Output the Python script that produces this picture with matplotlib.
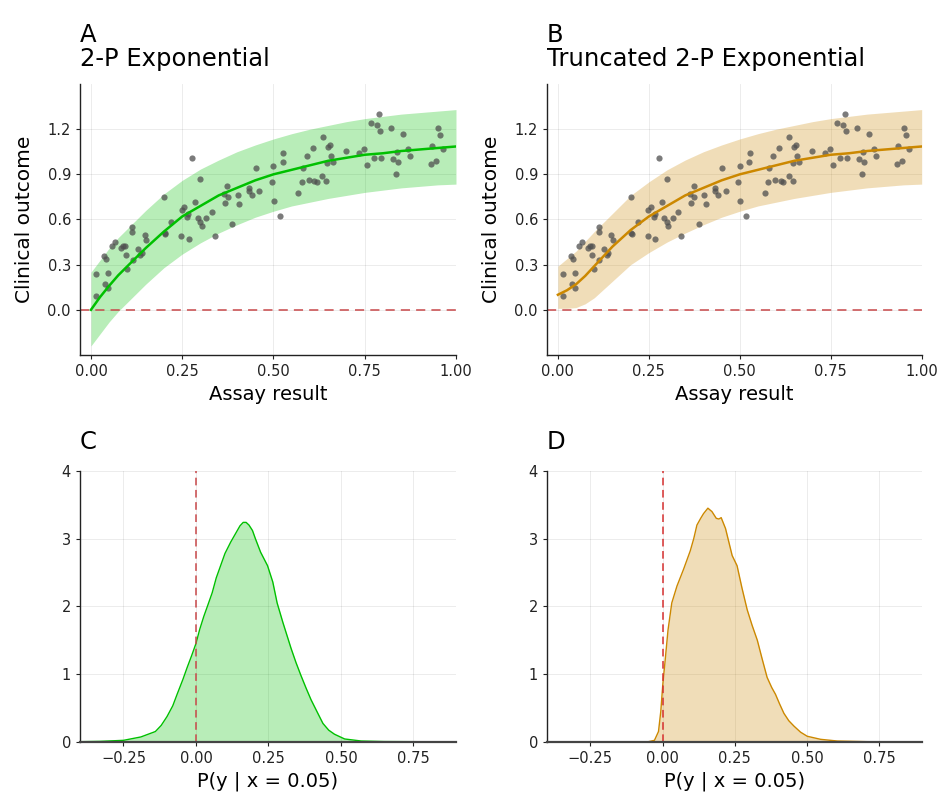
import numpy as np
import matplotlib.pyplot as plt

# observed data (same points shown in A and B)
assay = [0.013, 0.014, 0.035, 0.041, 0.038, 0.048, 0.046, 0.059, 0.067, 0.083,
         0.088, 0.094, 0.095, 0.100, 0.112, 0.113, 0.114, 0.128, 0.135, 0.139,
         0.147, 0.151, 0.200, 0.202, 0.204, 0.220, 0.249, 0.256, 0.248, 0.268,
         0.263, 0.266, 0.277, 0.286, 0.292, 0.299, 0.304, 0.299, 0.316, 0.331,
         0.339, 0.366, 0.364, 0.373, 0.375, 0.387, 0.403, 0.406, 0.432, 0.432,
         0.440, 0.451, 0.461, 0.496, 0.500, 0.501, 0.517, 0.526, 0.527, 0.568,
         0.577, 0.581, 0.592, 0.596, 0.609, 0.612, 0.618, 0.634, 0.635, 0.645,
         0.647, 0.650, 0.654, 0.658, 0.664, 0.699, 0.733, 0.748, 0.755, 0.767,
         0.776, 0.783, 0.790, 0.791, 0.795, 0.821, 0.828, 0.835, 0.839, 0.842,
         0.854, 0.869, 0.875, 0.932, 0.934, 0.946, 0.951, 0.957, 0.964]
outcome = [0.237, 0.091, 0.359, 0.337, 0.171, 0.244, 0.146, 0.424, 0.453, 0.408,
           0.421, 0.426, 0.362, 0.273, 0.548, 0.519, 0.331, 0.404, 0.364, 0.375,
           0.495, 0.464, 0.752, 0.510, 0.506, 0.583, 0.663, 0.681, 0.488, 0.472,
           0.619, 0.634, 1.007, 0.714, 0.612, 0.581, 0.559, 0.867, 0.610, 0.648,
           0.490, 0.708, 0.772, 0.821, 0.752, 0.570, 0.765, 0.703, 0.812, 0.790,
           0.765, 0.945, 0.788, 0.852, 0.956, 0.721, 0.626, 0.985, 1.043, 0.779,
           0.852, 0.941, 1.023, 0.861, 1.078, 0.856, 0.847, 0.892, 1.149, 0.856,
           0.978, 1.080, 1.098, 1.020, 0.985, 1.058, 1.045, 1.071, 0.961, 1.238,
           1.009, 1.227, 1.298, 1.189, 1.007, 1.205, 1.000, 0.903, 1.047, 0.985,
           1.167, 1.071, 1.025, 0.969, 1.089, 0.989, 1.211, 1.158, 1.067]

# fitted curves and predictive bands
x_fit = [0.00, 0.025, 0.05, 0.075, 0.10, 0.125, 0.15, 0.175, 0.20, 0.25, 0.30,
         0.35, 0.40, 0.45, 0.50, 0.55, 0.60, 0.65, 0.70, 0.75, 0.80, 0.85,
         0.90, 0.95, 1.00]
fit_a = [0.00, 0.085, 0.16, 0.23, 0.29, 0.35, 0.41, 0.465, 0.52, 0.62, 0.69,
         0.76, 0.81, 0.86, 0.90, 0.93, 0.96, 0.99, 1.01, 1.03, 1.04, 1.055,
         1.065, 1.075, 1.085]
upper_a = [0.25, 0.33, 0.41, 0.48, 0.54, 0.60, 0.66, 0.715, 0.77, 0.86, 0.935,
           0.995, 1.05, 1.095, 1.135, 1.17, 1.20, 1.225, 1.25, 1.27, 1.285, 1.30,
           1.31, 1.32, 1.33]
lower_a = [-0.24, -0.16, -0.08, -0.01, 0.05, 0.11, 0.17, 0.225, 0.28, 0.37, 0.445,
           0.51, 0.565, 0.615, 0.655, 0.69, 0.715, 0.74, 0.76, 0.78, 0.795, 0.81,
           0.82, 0.83, 0.835]
fit_b = [0.10, 0.13, 0.17, 0.225, 0.29, 0.355, 0.42, 0.475, 0.53, 0.62, 0.69,
         0.76, 0.81, 0.86, 0.90, 0.93, 0.96, 0.99, 1.01, 1.03, 1.04, 1.055,
         1.065, 1.075, 1.085]
upper_b = [0.29, 0.34, 0.39, 0.455, 0.52, 0.58, 0.64, 0.70, 0.76, 0.85, 0.93,
           0.995, 1.05, 1.095, 1.135, 1.17, 1.20, 1.225, 1.25, 1.27, 1.285, 1.30,
           1.31, 1.32, 1.33]
lower_b = [0.01, 0.01, 0.015, 0.04, 0.08, 0.135, 0.19, 0.245, 0.30, 0.38, 0.45,
           0.51, 0.565, 0.615, 0.655, 0.69, 0.715, 0.74, 0.76, 0.78, 0.795, 0.81,
           0.82, 0.83, 0.835]

# posterior predictive densities at x = 0.05
dens_x_c = [-0.40, -0.33, -0.25, -0.19, -0.14, -0.12, -0.10, -0.08, -0.065, -0.045,
            -0.03, -0.015, 0.0, 0.013, 0.027, 0.042, 0.056, 0.07, 0.085, 0.10,
            0.12, 0.14, 0.152, 0.163, 0.173, 0.183, 0.195, 0.205, 0.223, 0.247,
            0.265, 0.28, 0.30, 0.328, 0.345, 0.362, 0.38, 0.397, 0.418, 0.438,
            0.458, 0.478, 0.513, 0.57, 0.65, 0.76]
dens_y_c = [0.0, 0.005, 0.02, 0.07, 0.15, 0.24, 0.37, 0.53, 0.70, 0.92,
            1.10, 1.27, 1.45, 1.66, 1.85, 2.03, 2.2, 2.42, 2.6, 2.78,
            2.95, 3.1, 3.19, 3.24, 3.24, 3.2, 3.12, 3.0, 2.8, 2.6,
            2.36, 2.05, 1.76, 1.38, 1.17, 0.98, 0.79, 0.62, 0.44, 0.27,
            0.17, 0.11, 0.04, 0.01, 0.002, 0.0]
dens_x_d = [-0.049, -0.028, -0.014, -0.006, 0.001, 0.009, 0.019, 0.032, 0.05, 0.073,
            0.096, 0.108, 0.119, 0.132, 0.142, 0.157, 0.171, 0.186, 0.195, 0.203,
            0.218, 0.241, 0.258, 0.275, 0.293, 0.31, 0.328, 0.345, 0.362, 0.378,
            0.391, 0.405, 0.42, 0.437, 0.455, 0.478, 0.501, 0.547, 0.605, 0.71]
dens_y_d = [0.0, 0.02, 0.15, 0.45, 0.85, 1.2, 1.65, 2.05, 2.3, 2.55,
            2.82, 3.0, 3.2, 3.3, 3.37, 3.45, 3.40, 3.30, 3.29, 3.31,
            3.15, 2.75, 2.6, 2.27, 1.95, 1.72, 1.5, 1.22, 0.95, 0.8,
            0.7, 0.56, 0.42, 0.31, 0.23, 0.14, 0.08, 0.035, 0.01, 0.0]

green = '#00c000'
orange = '#cc8800'
red = '#c8484a'

fig = plt.figure(figsize=(9.4, 7.97), dpi=100)
ax_a = fig.add_axes([0.0851, 0.5546, 0.400, 0.340])
ax_b = fig.add_axes([0.5819, 0.5546, 0.3986, 0.340])
ax_c = fig.add_axes([0.0851, 0.0694, 0.400, 0.3397])
ax_d = fig.add_axes([0.5819, 0.0694, 0.3986, 0.3397])


def style(ax):
    for s in ['top', 'right']:
        ax.spines[s].set_visible(False)
    for s in ['left', 'bottom']:
        ax.spines[s].set_linewidth(1.0)
        ax.spines[s].set_color('#222222')
    ax.tick_params(direction='out', length=3, width=0.8, labelsize=10.5,
                   colors='#222222')
    ax.grid(True, color='#000000', alpha=0.09, linewidth=0.6)
    ax.set_axisbelow(True)


for ax, fit, up, lo, col, title in [
        (ax_a, fit_a, upper_a, lower_a, green, "A\n2-P Exponential"),
        (ax_b, fit_b, upper_b, lower_b, orange, "B\nTruncated 2-P Exponential")]:
    style(ax)
    ax.fill_between(x_fit, lo, up, color=col, alpha=0.28, linewidth=0)
    ax.axhline(0, color=red, linestyle=(0, (6, 4)), linewidth=1.1)
    ax.scatter(assay, outcome, s=20, color='#4f4f4f', alpha=0.75,
               linewidths=0, zorder=3)
    ax.plot(x_fit, fit, color=col, linewidth=1.8, zorder=4)
    ax.set_xlim(-0.03, 1.0)
    ax.set_ylim(-0.3, 1.5)
    ax.set_xticks([0, 0.25, 0.5, 0.75, 1.0])
    ax.set_xticklabels(['0.00', '0.25', '0.50', '0.75', '1.00'])
    ax.set_yticks([0, 0.3, 0.6, 0.9, 1.2])
    ax.set_yticklabels(['0.0', '0.3', '0.6', '0.9', '1.2'])
    ax.set_xlabel("Assay result", fontsize=14)
    ax.set_ylabel("Clinical outcome", fontsize=14.5, labelpad=10)
    ax.set_title(title, loc='left', fontsize=17.5, pad=13, linespacing=1.0)

for ax, dx, dy, col, lab, rc in [
        (ax_c, dens_x_c, dens_y_c, green, "C", red),
        (ax_d, dens_x_d, dens_y_d, orange, "D", '#d63030')]:
    style(ax)
    ax.spines['bottom'].set_color('#444444')
    ax.spines['bottom'].set_linewidth(1.6)
    ax.fill_between(dx, 0, dy, color=col, alpha=0.28, linewidth=0)
    ax.plot(dx, dy, color=col, linewidth=1.0)
    ax.axvline(0, color=rc, linestyle=(0, (5, 3)), linewidth=1.1)
    ax.set_xlim(-0.40, 0.897)
    ax.set_ylim(0, 4)
    ax.set_xticks([-0.25, 0, 0.25, 0.5, 0.75])
    ax.set_xticklabels(['\u22120.25', '0.00', '0.25', '0.50', '0.75'])
    ax.set_yticks([0, 1, 2, 3, 4])
    ax.set_xlabel("P(y | x = 0.05)", fontsize=14)
    ax.set_title(lab, loc='left', fontsize=17.5, pad=16)

fig.savefig("out.png", dpi=100)
